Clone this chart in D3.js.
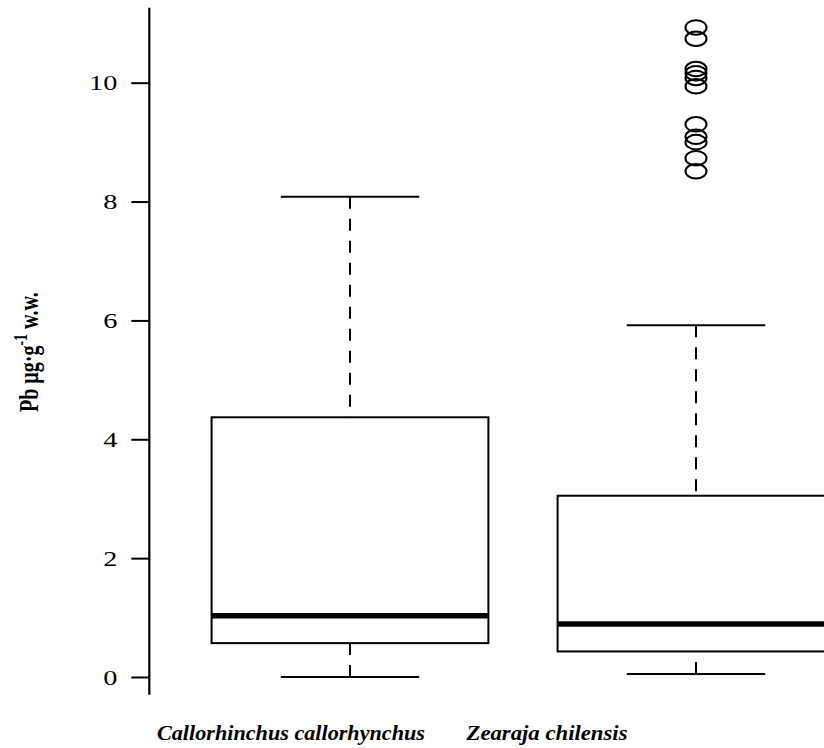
<!DOCTYPE html>
<html>
<head>
<meta charset="utf-8">
<script src="https://cdn.jsdelivr.net/npm/d3@7"></script>
<style>
  body { margin: 0; background: #fff; }
  svg { display: block; }
  text { font-family: "Liberation Serif", "DejaVu Serif", serif; fill: #000; }
</style>
</head>
<body>
<main></main>
<script>
const species = ["Callorhinchus callorhynchus", "Zearaja chilensis"]
const whiskerLow = [0.0, 0.05]
const q1 = [0.57, 0.43]
const median = [1.03, 0.89]
const q3 = [4.37, 3.05]
const whiskerHigh = [8.08, 5.92]
// outliers, only the second species has them
const outliers = [[], [10.93, 10.74, 10.23, 10.16, 10.08, 9.94, 9.30, 9.09, 9.00, 8.73, 8.51]]
const yTicks = [0, 2, 4, 6, 8, 10]

const width = 824
const height = 748

let svg = d3.select("main")
    .append("svg")
    .attr("width", width)
    .attr("height", height)
    .attr("viewBox", [0, 0, width, height])

// group positions 1 and 2, box width 0.8 like R
let x = d3.scaleLinear().domain([1, 2]).range([350, 696])
let y = d3.scaleLinear().domain([0, 10]).range([677, 82.7])
let labelX = d3.scaleLinear().domain([1, 2]).range([291, 547])
const boxW = x(1.8) - x(1)
const capW = boxW / 2

let boxes = species.map((name, i) => ({
    name, pos: i + 1,
    lo: whiskerLow[i], q1: q1[i], med: median[i], q3: q3[i], hi: whiskerHigh[i],
    out: outliers[i]
}))

// y axis
let yAxis = d3.axisLeft(y).tickValues(yTicks).tickSize(18).tickSizeOuter(0)
let ga = svg.append("g").attr("transform", `translate(${x(0.42)},0)`).call(yAxis)
ga.select(".domain").remove()
ga.selectAll(".tick line").attr("stroke", "#000").attr("stroke-width", 2)
ga.selectAll(".tick text")
    .attr("x", null).attr("dy", null)
    .attr("font-size", 21)
    .attr("dominant-baseline", "central")
    .attr("text-anchor", "end")
    .attr("transform", "translate(-32,0) scale(1.35,1)")
ga.append("line")
    .attr("y1", y(-0.3)).attr("y2", y(11.26))
    .attr("stroke", "#000").attr("stroke-width", 2.2)

let g = svg.selectAll("g.box")
    .data(boxes)
    .enter().append("g")
    .attr("class", "box")

// dashed whiskers, drawn from the cap towards the box
g.append("line")
    .attr("x1", d => x(d.pos)).attr("x2", d => x(d.pos))
    .attr("y1", d => y(d.hi)).attr("y2", d => y(d.q3))
    .attr("stroke", "#000").attr("stroke-width", 2)
    .attr("stroke-dasharray", "12 10")
g.append("line")
    .attr("x1", d => x(d.pos)).attr("x2", d => x(d.pos))
    .attr("y1", d => y(d.lo)).attr("y2", d => y(d.q1))
    .attr("stroke", "#000").attr("stroke-width", 2)
    .attr("stroke-dasharray", "12 10")

// caps
g.selectAll("line.cap")
    .data(d => [d.lo, d.hi].map(v => ({ v, pos: d.pos })))
    .enter().append("line")
    .attr("class", "cap")
    .attr("x1", d => x(d.pos) - capW / 2).attr("x2", d => x(d.pos) + capW / 2)
    .attr("y1", d => y(d.v)).attr("y2", d => y(d.v))
    .attr("stroke", "#000").attr("stroke-width", 2)

g.append("rect")
    .attr("x", d => x(d.pos) - boxW / 2)
    .attr("y", d => y(d.q3))
    .attr("width", boxW)
    .attr("height", d => y(d.q1) - y(d.q3))
    .attr("fill", "#fff")
    .attr("stroke", "#000").attr("stroke-width", 2)

g.append("line")
    .attr("x1", d => x(d.pos) - boxW / 2).attr("x2", d => x(d.pos) + boxW / 2)
    .attr("y1", d => y(d.med)).attr("y2", d => y(d.med))
    .attr("stroke", "#000").attr("stroke-width", 5.5)

g.selectAll("ellipse")
    .data(d => d.out.map(v => ({ v, pos: d.pos })))
    .enter().append("ellipse")
    .attr("cx", d => x(d.pos))
    .attr("cy", d => y(d.v))
    .attr("rx", 10.5).attr("ry", 7.3)
    .attr("fill", "none")
    .attr("stroke", "#000").attr("stroke-width", 2)

// species names
let labelWidths = [268, 161]
svg.selectAll("text.species")
    .data(boxes)
    .enter().append("text")
    .attr("class", "species")
    .attr("x", d => labelX(d.pos) - labelWidths[d.pos - 1] / 2)
    .attr("y", 740)
    .attr("font-size", 22)
    .attr("font-weight", "bold")
    .attr("font-style", "italic")
    .attr("textLength", d => labelWidths[d.pos - 1])
    .attr("lengthAdjust", "spacingAndGlyphs")
    .text(d => d.name)

// y label
let yl = svg.append("text")
    .attr("transform", `translate(38,${(y(-0.437) + y(11.37)) / 2}) scale(1.4,1) rotate(-90)`)
    .attr("text-anchor", "middle")
    .attr("font-size", 20)
    .attr("font-weight", "bold")
yl.append("tspan").text("Pb µg·g")
yl.append("tspan").attr("font-size", 14).attr("dy", -8).text("-1")
yl.append("tspan").attr("dy", 8).text(" w.w.")
</script>
</body>
</html>
